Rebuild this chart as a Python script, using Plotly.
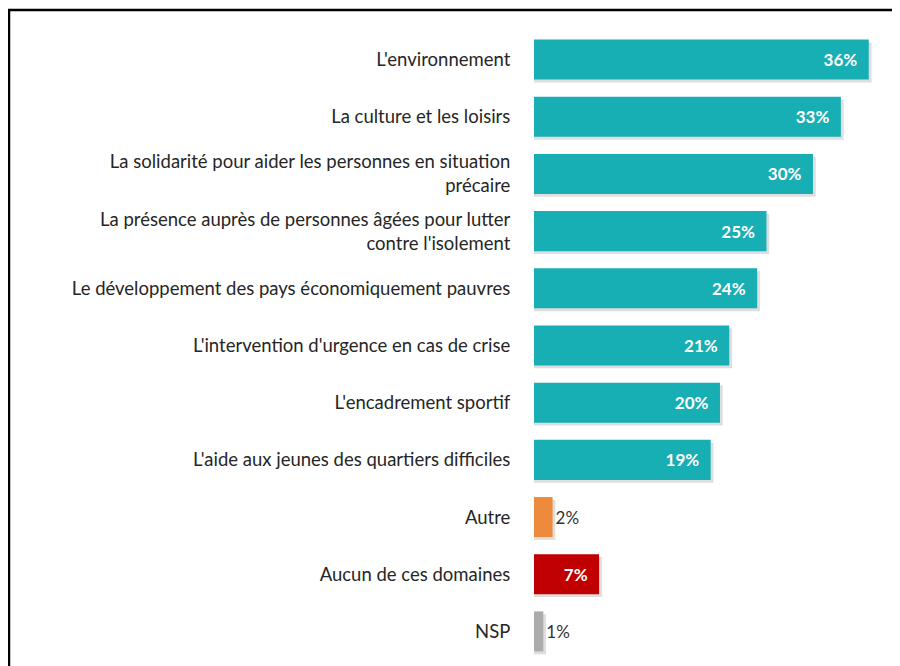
import plotly.graph_objects as go

categories = [
    "L'environnement",
    "La culture et les loisirs",
    "La solidarité pour aider les personnes en situation<br>précaire",
    "La présence auprès de personnes âgées pour lutter<br>contre l'isolement",
    "Le développement des pays économiquement pauvres",
    "L'intervention d'urgence en cas de crise",
    "L'encadrement sportif",
    "L'aide aux jeunes des quartiers difficiles",
    "Autre",
    "Aucun de ces domaines",
    "NSP",
]
values = [36, 33, 30, 25, 24, 21, 20, 19, 2, 7, 1]

TEAL = "#17AEB4"
colors = [TEAL] * 8 + ["#EE8A3C", "#C00000", "#ABABAB"]
positions = ["inside" if v >= 5 else "outside" for v in values]
text_colors = ["white" if v >= 5 else "#333333" for v in values]
labels = [f"<b>{v}%</b>\u2002" if v >= 5 else f"{v}%" for v in values]

fig = go.Figure()

# soft drop shadow behind each bar
fig.add_trace(go.Bar(
    y=categories, x=[v + 0.3 for v in values], orientation="h",
    width=0.7, offset=-0.3,
    marker=dict(color="rgba(0,0,0,0.13)", line=dict(width=0)),
    hoverinfo="skip", showlegend=False,
))

fig.add_trace(go.Bar(
    y=categories, x=values, orientation="h",
    width=0.7, offset=-0.35,
    marker=dict(color=colors, line=dict(width=0)),
    text=labels, textposition=positions,
    insidetextanchor="end",
    textfont=dict(family="Lato, sans-serif", size=17, color=text_colors),
    cliponaxis=False, showlegend=False,
))

# page body has an 8px margin, so the figure is 8px smaller than the window
W, H = 892, 658
ml, mr, mt, mb = 526, 8, 23, 6
pw, ph = W - ml - mr, H - mt - mb

fig.update_layout(
    width=W, height=H,
    margin=dict(l=ml, r=mr, t=mt, b=mb),
    barmode="overlay",
    paper_bgcolor="white", plot_bgcolor="white",
    font=dict(family="Lato, sans-serif", size=18.5, color="#262626"),
    xaxis=dict(range=[0, 38.5], visible=False),
    yaxis=dict(autorange="reversed", showgrid=False, zeroline=False,
               showline=False, ticks="outside", ticklen=19,
               tickcolor="rgba(0,0,0,0)", tickfont=dict(size=18.5)),
    shapes=[dict(
        type="rect", xref="paper", yref="paper",
        x0=(1 - ml) / pw, x1=(W + 20 - ml) / pw,
        y0=-30 / ph, y1=(H - mb - 2) / ph,
        line=dict(color="black", width=2.5), fillcolor="rgba(0,0,0,0)",
    )],
)

fig.write_html("out.html")
